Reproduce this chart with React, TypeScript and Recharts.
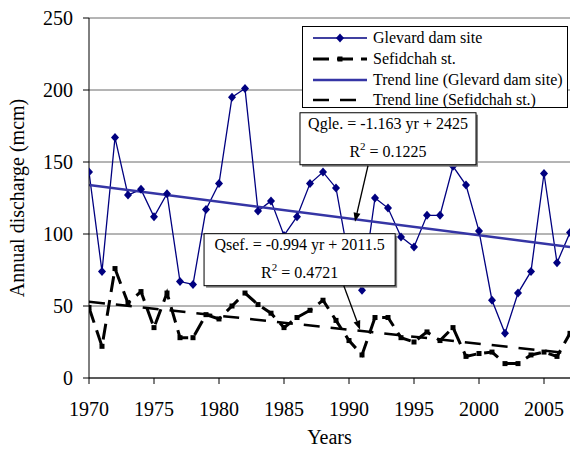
import React from 'react';
import {
  LineChart,
  Line,
  XAxis,
  YAxis,
  CartesianGrid,
  ReferenceArea,
  ReferenceLine,
  Legend,
  Label,
} from 'recharts';

const years = [
  1970, 1971, 1972, 1973, 1974, 1975, 1976, 1977, 1978, 1979,
  1980, 1981, 1982, 1983, 1984, 1985, 1986, 1987, 1988, 1989,
  1990, 1991, 1992, 1993, 1994, 1995, 1996, 1997, 1998, 1999,
  2000, 2001, 2002, 2003, 2004, 2005, 2006, 2007,
];
const glevard = [
  143, 74, 167, 127, 131, 112, 128, 67, 65, 117,
  135, 195, 201, 116, 123, 99, 112, 135, 143, 132,
  82, 61, 125, 118, 98, 91, 113, 113, 147, 134,
  102, 54, 31, 59, 74, 142, 80, 101,
];
const sefidchah = [
  49, 22, 76, 52, 60, 35, 59, 28, 28, 44,
  41, 50, 59, 51, 45, 35, 42, 47, 54, 40,
  26, 16, 42, 42, 28, 25, 32, 26, 35, 15,
  17, 18, 10, 10, 16, 18, 15, 31,
];
const trendYears = [1970, 2007];
const trendGlevard = [134, 91];
const trendSefidchah = [53, 17];

const xTicks = [1970, 1975, 1980, 1985, 1990, 1995, 2000, 2005];
const yTicks = [0, 50, 100, 150, 200, 250];

const eqGle = { line1: 'Qgle. = -1.163 yr + 2425', r2: ' = 0.1225' };
const eqSef = { line1: 'Qsef. = -0.994 yr + 2011.5', r2: ' = 0.4721' };

const data = years.map((y, i) => ({ year: y, gle: glevard[i], sef: sefidchah[i] }));
const trendData = trendYears.map((y, i) => ({ year: y, tg: trendGlevard[i], ts: trendSefidchah[i] }));

const FONT = 'Liberation Serif, Times New Roman, serif';
const NAVY = '#000080';
const TREND_BLUE = '#3535a5';

const Diamond = (props: any) => {
  const { cx, cy } = props;
  if (cx == null || cy == null) return null;
  return (
    <polygon
      key={`d-${cx}-${cy}`}
      points={`${cx},${cy - 4.5} ${cx + 4},${cy} ${cx},${cy + 4.5} ${cx - 4},${cy}`}
      fill={NAVY}
    />
  );
};

const Square = (props: any) => {
  const { cx, cy } = props;
  if (cx == null || cy == null) return null;
  return <rect key={`s-${cx}-${cy}`} x={cx - 2.5} y={cy - 2.5} width={5} height={5} fill="#000" />;
};

const makeBox = (eq: { line1: string; r2: string }) => (props: any) => {
  const { x, y, width, height } = props;
  const cx = x + width / 2;
  return (
    <g>
      <rect x={x + 2} y={y + 2} width={width} height={height} fill="#808080" />
      <rect x={x} y={y} width={width} height={height} fill="#fff" stroke="#000" strokeWidth={1} />
      <text x={cx} y={y + 16} textAnchor="middle" fontFamily={FONT} fontSize={16} fill="#000">
        {eq.line1}
      </text>
      <text x={cx} y={y + 44} textAnchor="middle" fontFamily={FONT} fontSize={16} fill="#000">
        R<tspan dy={-7} fontSize={11}>2</tspan>
        <tspan dy={7}>{eq.r2}</tspan>
      </text>
    </g>
  );
};

const Arrow = (props: any) => {
  const { x1, y1, x2, y2 } = props;
  if ([x1, y1, x2, y2].some((v) => v == null || isNaN(v))) return null;
  const ang = Math.atan2(y2 - y1, x2 - x1);
  const L = 9;
  const W = 3.5;
  const bx = x2 - L * Math.cos(ang);
  const by = y2 - L * Math.sin(ang);
  const px = -Math.sin(ang) * W;
  const py = Math.cos(ang) * W;
  return (
    <g>
      <line x1={x1} y1={y1} x2={bx} y2={by} stroke="#000" strokeWidth={1.3} />
      <polygon points={`${x2},${y2} ${bx + px},${by + py} ${bx - px},${by - py}`} fill="#000" />
    </g>
  );
};

const legendItems = [
  { label: 'Glevard dam site', kind: 'gle' },
  { label: 'Sefidchah st.', kind: 'sef' },
  { label: 'Trend line (Glevard dam site)', kind: 'tg' },
  { label: 'Trend line (Sefidchah st.)', kind: 'ts' },
];

const LegendBox = () => {
  const rows = [11, 32, 53, 73];
  return (
    <div
      style={{
        width: 266,
        height: 82,
        border: '1px solid #000',
        background: '#fff',
        boxSizing: 'border-box',
      }}
    >
      <svg width={264} height={80} style={{ display: 'block', overflow: 'visible' }}>
        {legendItems.map((it, i) => {
          const y = rows[i];
          const x0 = 10;
          const x1 = 64;
          const mid = (x0 + x1) / 2;
          let sample: React.ReactNode = null;
          if (it.kind === 'gle') {
            sample = (
              <g>
                <line x1={x0} y1={y} x2={x1} y2={y} stroke={NAVY} strokeWidth={1.3} />
                <polygon points={`${mid},${y - 4.5} ${mid + 4},${y} ${mid},${y + 4.5} ${mid - 4},${y}`} fill={NAVY} />
              </g>
            );
          } else if (it.kind === 'sef') {
            sample = (
              <g>
                <line x1={x0} y1={y} x2={x1} y2={y} stroke="#000" strokeWidth={3} strokeDasharray="16 8" />
                <rect x={mid - 2.5} y={y - 2.5} width={5} height={5} fill="#000" />
              </g>
            );
          } else if (it.kind === 'tg') {
            sample = <line x1={x0} y1={y} x2={x1} y2={y} stroke={TREND_BLUE} strokeWidth={2.5} />;
          } else {
            sample = <line x1={x0} y1={y} x2={x1} y2={y} stroke="#000" strokeWidth={2.5} strokeDasharray="16 11" />;
          }
          return (
            <g key={it.kind}>
              {sample}
              <text x={70} y={y + 5} fontFamily={FONT} fontSize={16} fill="#000">
                {it.label}
              </text>
            </g>
          );
        })}
      </svg>
    </div>
  );
};

export default function App() {
  return (
    <div style={{ position: 'absolute', left: 0, top: 0, width: 571, height: 450, background: '#fff' }}>
      <LineChart width={571} height={450} data={data} margin={{ top: 18, right: 1, left: 0, bottom: 0 }}>
        <CartesianGrid vertical={false} stroke="#6b6b6b" strokeWidth={1} />
        <XAxis
          dataKey="year"
          type="number"
          domain={[1970, 2007]}
          ticks={xTicks}
          allowDataOverflow
          height={72}
          tickSize={6}
          tickMargin={18}
          axisLine={{ stroke: '#000', strokeWidth: 1 }}
          tickLine={{ stroke: '#000', strokeWidth: 1 }}
          tick={{ fontFamily: FONT, fontSize: 20, fill: '#000' }}
        >
          <Label
            content={(p: any) => {
              const vb = p.viewBox || {};
              return (
                <text
                  x={vb.x + vb.width / 2}
                  y={444}
                  textAnchor="middle"
                  fontFamily={FONT}
                  fontSize={20}
                  fill="#000"
                >
                  Years
                </text>
              );
            }}
          />
        </XAxis>
        <YAxis
          type="number"
          domain={[0, 250]}
          ticks={yTicks}
          width={89}
          tickSize={6}
          tickMargin={10}
          axisLine={{ stroke: '#000', strokeWidth: 1 }}
          tickLine={{ stroke: '#000', strokeWidth: 1 }}
          tick={{ fontFamily: FONT, fontSize: 20, fill: '#000' }}
        >
          <Label
            content={(p: any) => {
              const vb = p.viewBox || {};
              const cx = 24;
              const cy = vb.y + vb.height / 2;
              return (
                <text
                  x={cx}
                  y={cy}
                  textAnchor="middle"
                  fontFamily={FONT}
                  fontSize={20}
                  fill="#000"
                  transform={`rotate(-90, ${cx}, ${cy})`}
                >
                  Annual discharge (mcm)
                </text>
              );
            }}
          />
        </YAxis>
        <Line
          data={data}
          dataKey="sef"
          stroke="#000"
          strokeWidth={3}
          strokeDasharray="16 8"
          dot={<Square />}
          activeDot={false}
          isAnimationActive={false}
        />
        <Line
          data={trendData}
          dataKey="ts"
          stroke="#000"
          strokeWidth={2.5}
          strokeDasharray="16 11"
          dot={false}
          activeDot={false}
          isAnimationActive={false}
        />
        <Line
          data={data}
          dataKey="gle"
          stroke={NAVY}
          strokeWidth={1.3}
          dot={<Diamond />}
          activeDot={false}
          isAnimationActive={false}
        />
        <Line
          data={trendData}
          dataKey="tg"
          stroke={TREND_BLUE}
          strokeWidth={2.5}
          dot={false}
          activeDot={false}
          isAnimationActive={false}
        />
        <ReferenceArea
          x1={1978.85}
          x2={1993.55}
          y1={64.1}
          y2={100.2}
          shape={makeBox(eqSef)}
          zIndex={1000}
        />
        <ReferenceArea
          x1={1986.23}
          x2={1999.77}
          y1={148.1}
          y2={184.2}
          shape={makeBox(eqGle)}
          zIndex={1000}
        />
        <ReferenceLine
          segment={[{ x: 1991.46, y: 147.4 }, { x: 1990.46, y: 108.5 }]}
          shape={Arrow}
          zIndex={1001}
        />
        <ReferenceLine
          segment={[{ x: 1989.6, y: 64.1 }, { x: 1990.85, y: 33.5 }]}
          shape={Arrow}
          zIndex={1001}
        />
        <Legend
          layout="horizontal"
          align="center"
          verticalAlign="middle"
          wrapperStyle={{ position: 'absolute', left: 302, top: 26, width: 266, height: 82 }}
          content={() => <LegendBox />}
        />
      </LineChart>
    </div>
  );
}
